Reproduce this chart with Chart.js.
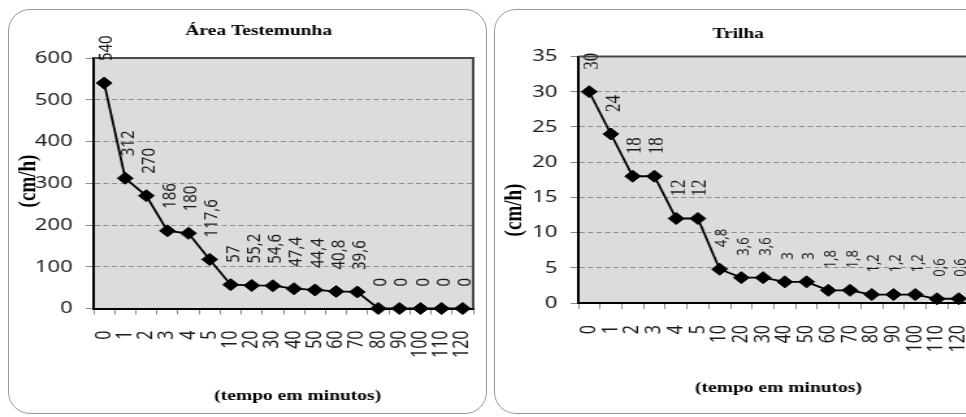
<!DOCTYPE html>
<html>
<head>
<meta charset="utf-8">
<script src="https://cdn.jsdelivr.net/npm/chart.js@4"></script>
<style>
  html, body { margin: 0; padding: 0; background: #fff; }
  body { width: 966px; height: 417px; overflow: hidden; position: relative; }
  .box { position: absolute; box-sizing: border-box; border: 1.5px solid #9a9a9a; border-radius: 22px; background: #fff; }
  .wrap { position: absolute; top: 0; transform: scaleX(1.3); transform-origin: 0 0; }
  canvas { display: block; }
</style>
</head>
<body>
<div class="box" style="left:8px;top:9px;width:479px;height:405px"></div>
<div class="box" style="left:494px;top:9px;width:520px;height:405px"></div>
<div class="wrap" style="left:0px"><canvas id="c1" width="377" height="417"></canvas></div>
<div class="wrap" style="left:486px"><canvas id="c2" width="386" height="417"></canvas></div>
<script>
// ---- data ----
const minutos = ['0','1','2','3','4','5','10','20','30','40','50','60','70','80','90','100','110','120'];
const areaTestemunha = [540, 312, 270, 186, 180, 117.6, 57, 55.2, 54.6, 47.4, 44.4, 40.8, 39.6, 0, 0, 0, 0, 0];
const trilha = [30, 24, 18, 18, 12, 12, 4.8, 3.6, 3.6, 3, 3, 1.8, 1.8, 1.2, 1.2, 1.2, 0.6, 0.6];
const yMaxTestemunha = 600, yStepTestemunha = 100;
const yMaxTrilha = 35, yStepTrilha = 5;
const titleTestemunha = 'Área Testemunha';
const titleTrilha = 'Trilha';
const xTitle = '(tempo em minutos)';
const yTitle = '(cm/h)';

const fmt = v => String(v).replace('.', ',');
const SANS = "'Noto Sans', 'Liberation Sans', sans-serif";
const SERIF = "'Liberation Serif', 'Times New Roman', serif";

function decoPlugin(cfg) {
  return {
    id: 'deco',
    beforeDraw(chart) {
      const { ctx, chartArea: a } = chart;
      ctx.save();
      ctx.fillStyle = '#dcdcdc';
      ctx.fillRect(a.left, a.top, a.right - a.left, a.bottom - a.top);
      ctx.restore();
    },
    beforeDatasetsDraw(chart) {
      const { ctx, chartArea: a } = chart;
      ctx.save();
      ctx.strokeStyle = '#4a4a4a';
      ctx.lineWidth = 2;
      ctx.beginPath();
      ctx.moveTo(a.left, a.top);
      ctx.lineTo(a.right, a.top);
      ctx.lineTo(a.right, a.bottom);
      ctx.stroke();
      ctx.restore();
    },
    afterDatasetsDraw(chart) {
      const { ctx } = chart;
      const meta = chart.getDatasetMeta(0);
      const vals = chart.data.datasets[0].data;
      meta.data.forEach((pt, i) => {
        const v = vals[i];
        ctx.save();
        ctx.translate(pt.x + cfg.labelDx, pt.y - cfg.labelGap);
        ctx.rotate(-Math.PI / 2);
        ctx.font = cfg.labelFont(v);
        ctx.fillStyle = '#1a1a1a';
        ctx.textAlign = 'left';
        ctx.textBaseline = 'middle';
        ctx.fillText(fmt(v), 0, 0);
        ctx.restore();
      });
    },
    afterDraw(chart) {
      const { ctx } = chart;
      ctx.save();
      ctx.fillStyle = '#000';
      ctx.textAlign = 'center';
      ctx.textBaseline = 'alphabetic';
      ctx.font = 'bold 15px ' + SERIF;
      ctx.fillText(cfg.title, cfg.titleX, cfg.titleY);
      ctx.fillText(xTitle, cfg.xTitleX, cfg.xTitleY);
      ctx.translate(cfg.yTitleX, cfg.yTitleY);
      ctx.rotate(-Math.PI / 2);
      ctx.textBaseline = 'middle';
      ctx.font = 'bold 19px ' + SERIF;
      ctx.fillText(yTitle, 0, 0);
      ctx.restore();
    }
  };
}

function makeChart(id, data, yMax, yStep, layout) {
  return new Chart(document.getElementById(id), {
    type: 'line',
    data: {
      labels: minutos,
      datasets: [{
        data: data,
        borderColor: '#000',
        borderWidth: 1.8,
        tension: 0,
        pointStyle: 'rectRot',
        pointRadius: 6,
        pointHoverRadius: 6,
        pointBackgroundColor: '#000',
        pointBorderColor: '#000',
        pointBorderWidth: 1,
        clip: false
      }]
    },
    options: {
      responsive: false,
      animation: false,
      events: [],
      layout: { padding: { top: layout.padTop, right: layout.padRight, left: 0, bottom: 0 } },
      plugins: { legend: { display: false }, title: { display: false }, tooltip: { enabled: false } },
      scales: {
        x: {
          type: 'category',
          offset: true,
          grid: { display: true, drawOnChartArea: false, drawTicks: true, tickLength: 6, color: '#8a8a8a', offset: true },
          border: { display: true, color: '#000', width: 2 },
          ticks: { autoSkip: false, minRotation: 90, maxRotation: 90, padding: layout.xPad, color: '#1a1a1a', font: { family: SANS, size: 16 } },
          afterFit(s) { s.height = layout.xHeight; s.paddingLeft = 0; s.paddingRight = 0; }
        },
        y: {
          min: 0, max: yMax,
          grid: { display: true, drawOnChartArea: true, drawTicks: true, tickLength: 6, color: '#8c8c8c', lineWidth: 1 },
          border: { display: true, color: '#000', width: 2, dash: [4, 2.5] },
          ticks: { stepSize: yStep, padding: 10, color: '#1a1a1a', font: { family: SANS, size: 17 } },
          afterFit(s) { s.width = layout.yWidth; s.paddingTop = 0; s.paddingBottom = 0; }
        }
      }
    },
    plugins: [decoPlugin(layout)]
  });
}

makeChart('c1', areaTestemunha, yMaxTestemunha, yStepTestemunha, {
  padTop: 58, padRight: 13, yWidth: 72, xHeight: 108.5, xPad: 16,
  labelDx: 2, labelGap: 22,
  labelFont: v => '15px ' + SANS,
  title: titleTestemunha, titleX: 199, titleY: 35,
  xTitleX: 229, xTitleY: 400,
  yTitleX: 22, yTitleY: 181
});

makeChart('c2', trilha, yMaxTrilha, yStepTrilha, {
  padTop: 56.5, padRight: 14, yWidth: 71, xHeight: 114, xPad: 16,
  labelDx: 2, labelGap: 22,
  labelFont: v => (v >= 10 ? '17px ' + SERIF : '13px ' + SANS),
  title: titleTrilha, titleX: 194, titleY: 38,
  xTitleX: 225, xTitleY: 392,
  yTitleX: 22.5, yTitleY: 210
});
</script>
</body>
</html>
